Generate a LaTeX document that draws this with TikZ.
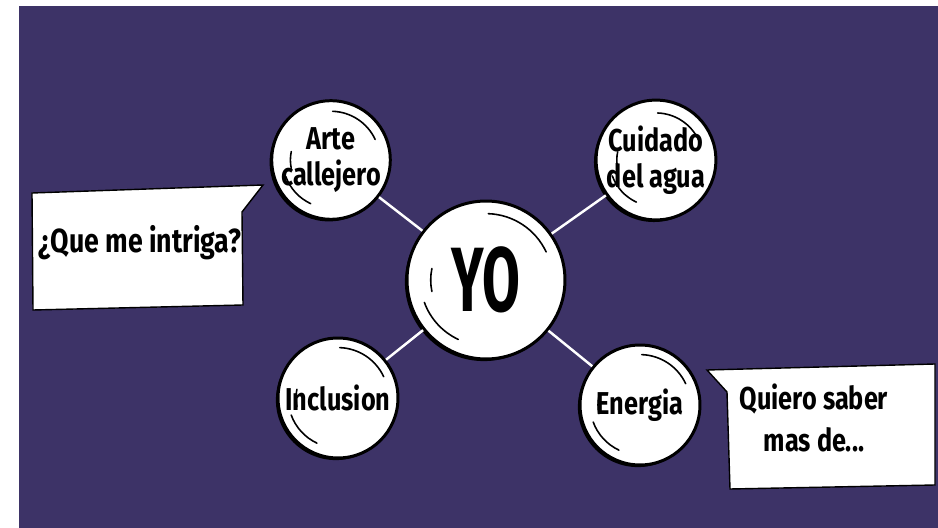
\documentclass[tikz,border=0pt]{standalone}
\usepackage{fontspec}
\usetikzlibrary{shadows}
\newfontfamily\manofont{Fira Sans}[FakeStretch=0.8]
\newfontfamily\yofont{Fira Sans}[FakeStretch=0.6]
\definecolor{fondo}{RGB}{61,51,103}

\begin{document}
\begin{tikzpicture}[x=0.02cm,y=0.02cm]
      \tikzstyle{burbuja}=[circle,draw=black,fill=white,line width=1.7pt,inner sep=0pt,align=center,
        drop shadow={shadow xshift=-1.2pt,shadow yshift=-1.2pt,fill=black,opacity=1},
        font=\manofont\bfseries\fontsize{18}{20.5}\selectfont]
      \tikzstyle{enlace}=[draw=white,line width=1.4pt]
      \tikzstyle{brillo}=[black,line width=0.9pt,line cap=round]
      \tikzstyle{globo}=[draw=black,fill=white,line width=0.8pt]
      \tikzstyle{texto}=[align=center,inner sep=0pt,font=\manofont\bfseries\fontsize{18}{24.4}\selectfont]
      \useasboundingbox (0,0) rectangle (938,528);
      \fill[fondo] (19,0) rectangle (938,522);
      % circulos
      \node[burbuja,minimum size=3.16cm,font=\yofont\bfseries\fontsize{52}{52}\selectfont] (yo) at (486,248) {YO};
      \node[burbuja,minimum size=2.32cm] (arte) at (331,368) {Arte\\callejero};
      \node[burbuja,minimum size=2.24cm] (agua) at (656,368) {Cuidado\\del agua};
      \node[burbuja,minimum size=2.4cm] (incl) at (338,130) {Inclusion};
      \node[burbuja,minimum size=2.4cm] (ener) at (640,123) {Energia};
      \draw[enlace] (yo)--(arte);
      \draw[enlace] (yo)--(agua);
      \draw[enlace] (yo)--(incl);
      \draw[enlace] (yo)--(ener);
      % brillos
      \foreach \n/\r in {yo/79,arte/58,agua/56,incl/60,ener/60}{
        \draw[brillo] ([shift={(88:\r*0.84)}]\n.center) arc[start angle=88,end angle=25,radius=\r*0.84];
        \draw[brillo] ([shift={(168:\r*0.7)}]\n.center) arc[start angle=168,end angle=192,radius=\r*0.7];
        \draw[brillo] ([shift={(200:\r*0.83)}]\n.center) arc[start angle=200,end angle=245,radius=\r*0.83];
      }
      % globos
      \draw[globo] (32,335)--(263,343)--(242,316)--(243,223)--(33,218)--cycle;
      \node[texto,font=\manofont\bfseries\fontsize{19}{22}\selectfont] (intriga) at (140,285) {¿Que me intriga?};
      \draw[globo] (707,158)--(935,164)--(935,43)--(730,39)--(727,136)--cycle;
      \node[texto] (saber) at (814,110) {Quiero saber\\mas de...};
\end{tikzpicture}
\end{document}
